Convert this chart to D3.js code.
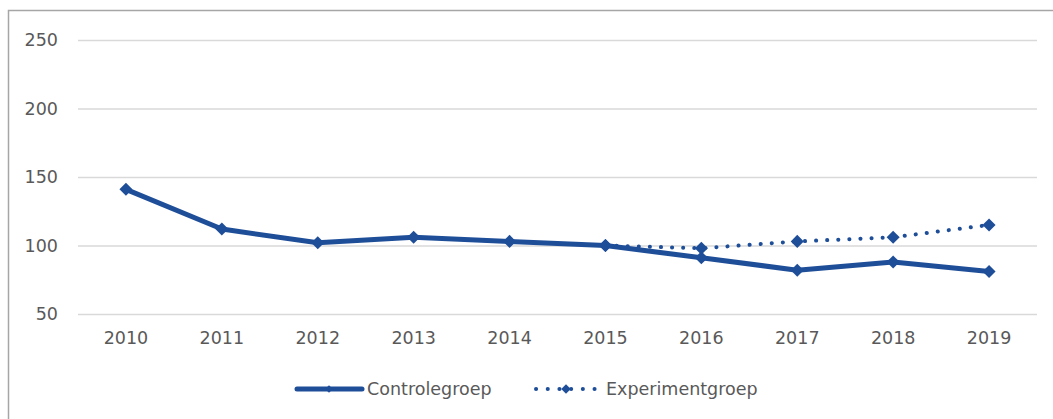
<!DOCTYPE html>
<html><head><meta charset="utf-8">
<script src="https://cdn.jsdelivr.net/npm/d3@7"></script>
<style>body{margin:0;background:#fff}svg{display:block}</style>
</head><body><svg id="c" width="1053" height="419"></svg>
<script>
const years = ["2010","2011","2012","2013","2014","2015","2016","2017","2018","2019"];
const controle = [141, 112, 102, 106, 103, 100, 91, 82, 88, 81];
const experiment = [null, null, null, null, null, 100, 98, 103, 106, 115];
const yTicks = [50, 100, 150, 200, 250];
const seriesNames = ["Controlegroep", "Experimentgroep"];

const svg = d3.select("#c");
const color = "#1f4e99";
const font = "'DejaVu Sans', sans-serif";
const fs = "17.5px";
const txt = "#595959";

svg.append("rect").attr("x", 8.5).attr("y", 10.5).attr("width", 1100).attr("height", 500)
  .attr("fill", "none").attr("stroke", "#a6a6a6").attr("stroke-width", 1.5);

const x = d3.scaleBand().domain(years).range([78, 1037]);
const y = d3.scaleLinear().domain([50, 250]).range([314, 40]);

const gy = svg.append("g").attr("transform", "translate(78,0)")
  .call(d3.axisLeft(y).tickValues(yTicks).tickSize(-(1037 - 78)).tickPadding(20));
gy.select(".domain").remove();
gy.selectAll(".tick line").attr("stroke", "#d9d9d9").attr("stroke-width", 1.5);
gy.selectAll(".tick text").attr("fill", txt).style("font-family", font).style("font-size", fs);

const gx = svg.append("g").attr("transform", "translate(0,314)")
  .call(d3.axisBottom(x).tickSize(0).tickPadding(18));
gx.select(".domain").remove();
gx.selectAll(".tick text").attr("fill", txt).style("font-family", font).style("font-size", fs);

const cx = d => x(d) + x.bandwidth() / 2;
const line = d3.line().defined(d => d[1] != null).x(d => cx(d[0])).y(d => y(d[1]));

const expData = years.map((yr, i) => [yr, experiment[i]]);
svg.append("path").datum(expData).attr("d", line).attr("fill", "none")
  .attr("stroke", color).attr("stroke-width", 4).attr("stroke-linecap", "round")
  .attr("stroke-dasharray", "0.1 11");
svg.selectAll(".em").data(expData.filter(d => d[1] != null)).join("path")
  .attr("transform", d => `translate(${cx(d[0])},${y(d[1])}) rotate(45)`)
  .attr("d", d3.symbol().type(d3.symbolSquare).size(85)).attr("fill", color);

const ctlData = years.map((yr, i) => [yr, controle[i]]);
svg.append("path").datum(ctlData).attr("d", line).attr("fill", "none")
  .attr("stroke", color).attr("stroke-width", 5).attr("stroke-linejoin", "round");
svg.selectAll(".cm").data(ctlData).join("path")
  .attr("transform", d => `translate(${cx(d[0])},${y(d[1])}) rotate(45)`)
  .attr("d", d3.symbol().type(d3.symbolSquare).size(85)).attr("fill", color);

// legend
const ly = 389;
const lg = svg.append("g");
lg.append("line").attr("x1", 297).attr("x2", 362).attr("y1", ly).attr("y2", ly)
  .attr("stroke", color).attr("stroke-width", 5).attr("stroke-linecap", "round");
lg.append("path").attr("transform", `translate(329,${ly}) rotate(45)`)
  .attr("d", d3.symbol().type(d3.symbolSquare).size(30)).attr("fill", color);
lg.append("text").attr("x", 367).attr("y", ly).attr("dy", "0.35em").text(seriesNames[0])
  .attr("fill", txt).style("font-family", font).style("font-size", fs);

lg.append("line").attr("x1", 536).attr("x2", 595).attr("y1", ly).attr("y2", ly)
  .attr("stroke", color).attr("stroke-width", 4).attr("stroke-linecap", "round")
  .attr("stroke-dasharray", "0.1 11.6");
lg.append("path").attr("transform", `translate(566,${ly}) rotate(45)`)
  .attr("d", d3.symbol().type(d3.symbolSquare).size(45)).attr("fill", color);
lg.append("text").attr("x", 606).attr("y", ly).attr("dy", "0.35em").text(seriesNames[1])
  .attr("fill", txt).style("font-family", font).style("font-size", fs);
</script></body></html>
